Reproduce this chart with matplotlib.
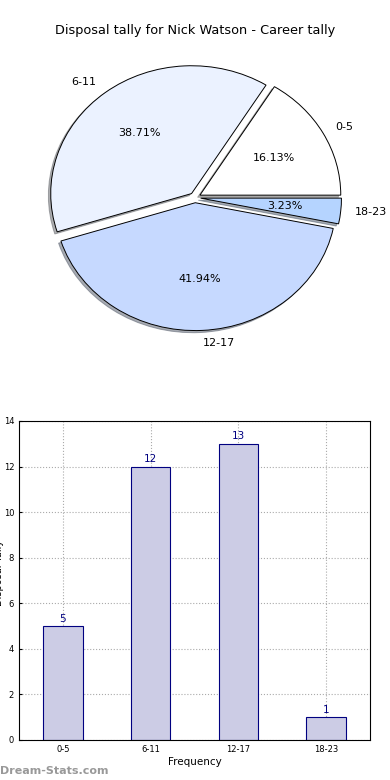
import matplotlib
matplotlib.use('Agg')
import matplotlib.pyplot as plt

# data
labels = ['0-5', '6-11', '12-17', '18-23']
counts = [5, 12, 13, 1]
pie_colors = ['#ffffff', '#ebf2ff', '#c6d9ff', '#b5d4ff']

fig = plt.figure(figsize=(3.9, 7.8), dpi=100)

# pie (old style, not equal aspect)
ax1 = fig.add_axes([0.045, 0.5385, 0.91, 0.413])
wedges, texts, autotexts = ax1.pie(
    counts, labels=labels, colors=pie_colors, explode=[0.04] * 4,
    autopct='%1.2f%%', shadow={'ox': -0.012, 'oy': -0.012, 'shade': 0.6},
    startangle=0, counterclock=True,
    wedgeprops=dict(edgecolor='black', linewidth=0.7),
    textprops=dict(fontsize=8))
ax1.set_aspect('auto')
ax1.set_xlim(-1.26, 1.26)
ax1.set_ylim(-1.27, 1.25)
ax1.axis('off')
fig.text(0.5, 0.961, 'Disposal tally for Nick Watson - Career tally',
         ha='center', va='center', fontsize=9.3)

# bar chart
ax2 = fig.add_axes([0.0487, 0.0513, 0.9, 0.409])
x = range(len(labels))
bars = ax2.bar(x, counts, width=0.45, color='#ccccE5', edgecolor='#000080',
               linewidth=0.8, zorder=2)
for i, c in enumerate(counts):
    ax2.text(i, c + 0.1, str(c), ha='center', va='bottom', color='#000080',
             fontsize=7.5)
ax2.set_xlim(-0.5, 3.5)
ax2.set_ylim(0, 14)
ax2.set_yticks(range(0, 15, 2))
ax2.set_xticks(list(x))
ax2.set_xticklabels(labels)
ax2.tick_params(labelsize=6, length=2, direction='in')
ax2.grid(True, linestyle=':', color='#aaaaaa', linewidth=0.8, zorder=0)
ax2.set_axisbelow(True)
ax2.set_xlabel('Frequency', fontsize=7.5, labelpad=2)
fig.text(-0.002, 0.265, 'Disposal Tally', rotation=90, ha='center',
         va='center', fontsize=7)

fig.text(0.0, 0.012, 'Dream-Stats.com', color='#999999', fontsize=8,
         fontweight='bold', ha='left', va='center')

fig.savefig('out.png', dpi=100)
